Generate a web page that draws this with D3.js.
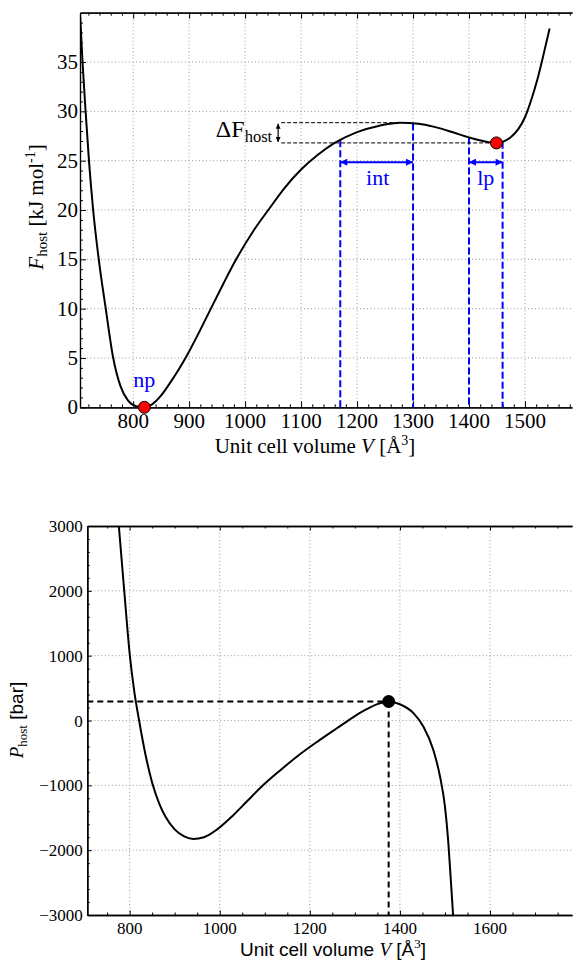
<!DOCTYPE html>
<html>
<head>
<meta charset="utf-8">
<script src="https://cdn.jsdelivr.net/npm/d3@7"></script>
<style>
  body { margin: 0; background: #fff; }
  svg { display: block; }
</style>
</head>
<body>
<svg id="canvas" width="573" height="961"></svg>
<script>
// free energy of the host vs unit cell volume (top panel)
let fVolume = [705, 709.5, 715, 721, 728.5, 738.5, 751, 764, 777, 790, 805, 820, 835, 850, 865, 880, 895, 915, 937, 960, 984, 1015, 1044, 1070, 1100, 1130, 1160, 1200, 1240, 1277, 1310, 1340, 1370, 1400, 1425, 1449, 1462, 1475, 1488, 1500, 1512, 1522, 1530, 1537, 1544]
let fEnergy = [40, 35, 30, 25, 20, 15, 10, 5.1, 2.2, 0.75, 0.12, 0, 0.35, 1.2, 2.4, 3.7, 5.15, 7.3, 9.8, 12.4, 15, 17.9, 20.2, 22.2, 24.1, 25.6, 26.8, 27.9, 28.55, 28.85, 28.75, 28.4, 27.9, 27.35, 27.0, 26.8, 26.95, 27.4, 28.2, 29.4, 31.3, 33.2, 35.0, 36.7, 38.4]

// host pressure vs unit cell volume (bottom panel)
let pVolume = [776, 788, 800.5, 810, 821, 835, 850, 865, 880, 900, 920, 941, 965, 986, 1030, 1060, 1096, 1134, 1178, 1220, 1260, 1295, 1325, 1350, 1375, 1400, 1430, 1452, 1474, 1489, 1500, 1507, 1512, 1518]
let pPressure = [3000, 2000, 1000, 460, 0, -520, -960, -1270, -1490, -1680, -1785, -1826, -1800, -1720, -1460, -1250, -1000, -770, -520, -310, -120, 45, 170, 253, 293, 250, 114, -92, -452, -864, -1327, -1841, -2355, -3000]

let fXTicks = [800, 900, 1000, 1100, 1200, 1300, 1400, 1500]
let fYTicks = [0, 5, 10, 15, 20, 25, 30, 35]
let pXTicks = [800, 1000, 1200, 1400, 1600]
let pYTicks = [-3000, -2000, -1000, 0, 1000, 2000, 3000]

let npPoint = [820, 0]
let lpPoint = [1449, 26.8]
let barrierPoint = [1277, 28.85]
let intRange = [1170, 1300]
let lpRange = [1400, 1460]
let deltaStart = 1059
let pMaxPoint = [1375, 293]

let serif = '"Liberation Serif", "Times New Roman", serif'
let sans = '"Liberation Sans", Arial, sans-serif'
let blue = '#0000ff'
let gridColor = '#9a9a9a'

let svg = d3.select('#canvas')

let interp = (xs, ys, v) => {
  for (let i = 1; i < xs.length; i++) {
    if (v <= xs[i]) {
      let t = (v - xs[i - 1]) / (xs[i] - xs[i - 1])
      return ys[i - 1] + t * (ys[i] - ys[i - 1])
    }
  }
  return ys[ys.length - 1]
}

svg.append('defs').html(
  '<clipPath id="clipTop"><rect x="80" y="12.7" width="492" height="394.6"/></clipPath>' +
  '<clipPath id="clipBot"><rect x="87.3" y="526" width="485" height="389"/></clipPath>' +
  '<marker id="arrB" viewBox="0 0 10 10" refX="10" refY="5" markerWidth="9" markerHeight="7" markerUnits="userSpaceOnUse" orient="auto-start-reverse"><path d="M0,0L10,5L0,10z" fill="' + blue + '"/></marker>' +
  '<marker id="arrK" viewBox="0 0 10 10" refX="10" refY="5" markerWidth="5" markerHeight="5" markerUnits="userSpaceOnUse" orient="auto-start-reverse"><path d="M0,0L10,5L0,10z" fill="#000"/></marker>'
)

let styleAxis = (g, width) => {
  g.selectAll('.domain').attr('stroke', '#000').attr('stroke-width', width)
  g.selectAll('.tick line').attr('stroke', '#000')
}

// ---------- top panel ----------
let xF = d3.scaleLinear().domain([705, 1584]).range([80, 572])
let yF = d3.scaleLinear().domain([0, 40]).range([407.3, 12.7])

let topPanel = svg.append('g')

topPanel.selectAll('.gx').data(fXTicks).enter().append('line')
   .attr('x1', d => xF(d)).attr('x2', d => xF(d))
   .attr('y1', yF(40)).attr('y2', yF(0))
   .attr('stroke', gridColor).attr('stroke-width', 1).attr('stroke-dasharray', '1,2.5')
topPanel.selectAll('.gy').data(fYTicks.filter(d => d > 0)).enter().append('line')
   .attr('x1', xF(705)).attr('x2', 572)
   .attr('y1', d => yF(d)).attr('y2', d => yF(d))
   .attr('stroke', gridColor).attr('stroke-width', 1).attr('stroke-dasharray', '1,2.5')

let fMinorX = d3.range(720, 1584, 20).filter(d => d % 100 !== 0)
let fMinorY = d3.range(1, 40, 1).filter(d => d % 5 !== 0)

let axB = topPanel.append('g').attr('transform', 'translate(0,' + yF(0) + ')')
axB.call(d3.axisBottom(xF).tickValues(fXTicks).tickSize(-6).tickSizeOuter(0).tickFormat(''))
axB.append('g').call(d3.axisBottom(xF).tickValues(fMinorX).tickSize(-3).tickSizeOuter(0).tickFormat(''))
let axT = topPanel.append('g').attr('transform', 'translate(0,' + yF(40) + ')')
axT.call(d3.axisTop(xF).tickValues(fXTicks).tickSize(-6).tickSizeOuter(0).tickFormat(''))
axT.append('g').call(d3.axisTop(xF).tickValues(fMinorX).tickSize(-3).tickSizeOuter(0).tickFormat(''))
let axL = topPanel.append('g').attr('transform', 'translate(' + xF(705) + ',0)')
axL.call(d3.axisLeft(yF).tickValues(fYTicks).tickSize(-6).tickSizeOuter(0).tickFormat(''))
axL.append('g').call(d3.axisLeft(yF).tickValues(fMinorY).tickSize(-3).tickSizeOuter(0).tickFormat(''))
;[axB, axT, axL].forEach(g => styleAxis(g, 1.2))

// tick labels
topPanel.selectAll('.xlab').data(fXTicks).enter().append('text')
   .attr('font-family', serif).attr('font-size', 21).attr('text-anchor', 'middle')
   .attr('x', d => xF(d)).attr('y', yF(0) + 21)
   .text(d => d)
topPanel.selectAll('.ylab').data(fYTicks).enter().append('text')
   .attr('font-family', serif).attr('font-size', 21).attr('text-anchor', 'end')
   .attr('x', xF(705) - 2).attr('y', d => yF(d) + 7)
   .text(d => d)

// blue dashed guides
let guideVols = [intRange[0], intRange[1], lpRange[0], lpRange[1]]
topPanel.selectAll('.guide').data(guideVols).enter().append('line')
   .attr('x1', d => xF(d)).attr('x2', d => xF(d))
   .attr('y1', d => yF(interp(fVolume, fEnergy, d)))
   .attr('y2', yF(0))
   .attr('stroke', blue).attr('stroke-width', 2).attr('stroke-dasharray', '7,3')

// blue double arrows
let arrowY = yF(24.85)
;[intRange, lpRange].forEach(r => {
  topPanel.append('line')
     .attr('x1', xF(r[0])).attr('x2', xF(r[1]))
     .attr('y1', arrowY).attr('y2', arrowY)
     .attr('stroke', blue).attr('stroke-width', 2)
     .attr('marker-start', 'url(#arrB)').attr('marker-end', 'url(#arrB)')
})
topPanel.append('text').attr('font-family', serif).attr('font-size', 22).attr('fill', blue)
   .attr('text-anchor', 'middle').attr('x', xF((intRange[0] + intRange[1]) / 2) + 1).attr('y', 185)
   .text('int')
topPanel.append('text').attr('font-family', serif).attr('font-size', 22).attr('fill', blue)
   .attr('text-anchor', 'middle').attr('x', xF((lpRange[0] + lpRange[1]) / 2)).attr('y', 185)
   .text('lp')

// delta F bracket
topPanel.append('line').attr('x1', xF(deltaStart) + 3).attr('x2', xF(barrierPoint[0]))
   .attr('y1', yF(barrierPoint[1])).attr('y2', yF(barrierPoint[1]))
   .attr('stroke', '#000').attr('stroke-width', 1).attr('stroke-dasharray', '4,2')
topPanel.append('line').attr('x1', xF(deltaStart) + 3).attr('x2', xF(lpPoint[0]))
   .attr('y1', yF(lpPoint[1])).attr('y2', yF(lpPoint[1]))
   .attr('stroke', '#000').attr('stroke-width', 1).attr('stroke-dasharray', '4,2')
topPanel.append('line').attr('x1', xF(deltaStart)).attr('x2', xF(deltaStart))
   .attr('y1', yF(barrierPoint[1]) + 1).attr('y2', yF(lpPoint[1]) - 1)
   .attr('stroke', '#000').attr('stroke-width', 1.2)
   .attr('marker-start', 'url(#arrK)').attr('marker-end', 'url(#arrK)')
let dF = topPanel.append('text').attr('font-family', serif).attr('font-size', 24)
   .attr('text-anchor', 'end').attr('x', xF(deltaStart) - 6).attr('y', 137)
dF.append('tspan').text('ΔF')
dF.append('tspan').attr('font-size', 16.5).attr('dy', 5).text('host')

// the curve
let lineF = d3.line().x(d => xF(d[0])).y(d => yF(d[1])).curve(d3.curveMonotoneX)
topPanel.append('path').datum(d3.zip(fVolume, fEnergy))
   .attr('clip-path', 'url(#clipTop)')
   .attr('d', lineF).attr('fill', 'none').attr('stroke', '#000').attr('stroke-width', 2)

;[npPoint, lpPoint].forEach(p => {
  topPanel.append('circle').attr('cx', xF(p[0])).attr('cy', yF(p[1])).attr('r', 6)
     .attr('fill', '#ff0000').attr('stroke', '#000').attr('stroke-width', 1)
})
topPanel.append('text').attr('font-family', serif).attr('font-size', 22).attr('fill', blue)
   .attr('text-anchor', 'middle').attr('x', xF(npPoint[0])).attr('y', 387).text('np')

// axis titles
let tx = topPanel.append('text').attr('font-family', serif).attr('font-size', 21)
   .attr('text-anchor', 'middle').attr('x', 315).attr('y', 453)
tx.append('tspan').text('Unit cell volume ')
tx.append('tspan').attr('font-style', 'italic').text('V')
tx.append('tspan').text(' [Å')
tx.append('tspan').attr('font-size', 14).attr('dy', -8).text('3')
tx.append('tspan').attr('dy', 8).text(']')

let ty = topPanel.append('text').attr('font-family', serif).attr('font-size', 21)
   .attr('text-anchor', 'middle').attr('transform', 'translate(43,207) rotate(-90)')
ty.append('tspan').attr('font-style', 'italic').text('F')
ty.append('tspan').attr('font-size', 15).attr('dy', 4).text('host')
ty.append('tspan').attr('dy', -4).text(' [kJ mol')
ty.append('tspan').attr('font-size', 14).attr('dy', -8).text('-1')
ty.append('tspan').attr('dy', 8).text(']')

// ---------- bottom panel ----------
let xP = d3.scaleLinear().domain([706, 1782]).range([87.3, 572])
let yP = d3.scaleLinear().domain([-3000, 3000]).range([915, 526])

let botPanel = svg.append('g')

botPanel.selectAll('.gx').data(pXTicks).enter().append('line')
   .attr('x1', d => xP(d)).attr('x2', d => xP(d))
   .attr('y1', yP(3000)).attr('y2', yP(-3000))
   .attr('stroke', gridColor).attr('stroke-width', 1).attr('stroke-dasharray', '1,2.5')
botPanel.selectAll('.gy').data(pYTicks.filter(d => Math.abs(d) < 3000)).enter().append('line')
   .attr('x1', xP(706)).attr('x2', 572)
   .attr('y1', d => yP(d)).attr('y2', d => yP(d))
   .attr('stroke', gridColor).attr('stroke-width', 1).attr('stroke-dasharray', '1,2.5')

let pMinorX = d3.range(750, 1782, 50).filter(d => d % 200 !== 0)
let pMinorY = d3.range(-2800, 3000, 200).filter(d => d % 1000 !== 0)

let bB = botPanel.append('g').attr('transform', 'translate(0,' + yP(-3000) + ')')
bB.call(d3.axisBottom(xP).tickValues(pXTicks).tickSize(-4.5).tickSizeOuter(0).tickFormat(''))
bB.append('g').call(d3.axisBottom(xP).tickValues(pMinorX).tickSize(-2.5).tickSizeOuter(0).tickFormat(''))
let bT = botPanel.append('g').attr('transform', 'translate(0,' + yP(3000) + ')')
bT.call(d3.axisTop(xP).tickValues(pXTicks).tickSize(-4.5).tickSizeOuter(0).tickFormat(''))
bT.append('g').call(d3.axisTop(xP).tickValues(pMinorX).tickSize(-2.5).tickSizeOuter(0).tickFormat(''))
let bL = botPanel.append('g').attr('transform', 'translate(' + xP(706) + ',0)')
bL.call(d3.axisLeft(yP).tickValues(pYTicks).tickSize(-4.5).tickSizeOuter(0).tickFormat(''))
bL.append('g').call(d3.axisLeft(yP).tickValues(pMinorY).tickSize(-2.5).tickSizeOuter(0).tickFormat(''))
;[bB, bT, bL].forEach(g => styleAxis(g, 1.4))

botPanel.selectAll('.xlab').data(pXTicks).enter().append('text')
   .attr('font-family', serif).attr('font-size', 17).attr('text-anchor', 'middle')
   .attr('x', d => xP(d)).attr('y', yP(-3000) + 19)
   .text(d => d)
botPanel.selectAll('.ylab').data(pYTicks).enter().append('text')
   .attr('font-family', serif).attr('font-size', 17).attr('text-anchor', 'end')
   .attr('x', xP(706) - 4.5).attr('y', d => yP(d) + 6)
   .text(d => d < 0 ? '\u2212' + Math.abs(d) : d)

// dashed guides to the pressure maximum
botPanel.append('line').attr('x1', xP(706)).attr('x2', xP(pMaxPoint[0]))
   .attr('y1', yP(pMaxPoint[1])).attr('y2', yP(pMaxPoint[1]))
   .attr('stroke', '#000').attr('stroke-width', 2).attr('stroke-dasharray', '6,4')
botPanel.append('line').attr('x1', xP(pMaxPoint[0])).attr('x2', xP(pMaxPoint[0]))
   .attr('y1', yP(pMaxPoint[1])).attr('y2', yP(-3000))
   .attr('stroke', '#000').attr('stroke-width', 2).attr('stroke-dasharray', '6,4')

let lineP = d3.line().x(d => xP(d[0])).y(d => yP(d[1])).curve(d3.curveMonotoneX)
botPanel.append('path').datum(d3.zip(pVolume, pPressure))
   .attr('clip-path', 'url(#clipBot)')
   .attr('d', lineP).attr('fill', 'none').attr('stroke', '#000').attr('stroke-width', 2)

botPanel.append('circle').attr('cx', xP(pMaxPoint[0])).attr('cy', yP(pMaxPoint[1])).attr('r', 6.5).attr('fill', '#000')

let bx = botPanel.append('text').attr('font-family', sans).attr('font-size', 19)
   .attr('text-anchor', 'middle').attr('x', 333).attr('y', 956)
bx.append('tspan').text('Unit cell volume ')
bx.append('tspan').attr('font-family', serif).attr('font-style', 'italic').text('V')
bx.append('tspan').text(' [Å')
bx.append('tspan').attr('font-family', serif).attr('font-size', 13).attr('dy', -8).text('3')
bx.append('tspan').attr('dy', 8).text(']')

let by = botPanel.append('text').attr('font-family', sans).attr('font-size', 19)
   .attr('text-anchor', 'middle').attr('transform', 'translate(23,720) rotate(-90)')
by.append('tspan').attr('font-family', serif).attr('font-style', 'italic').text('P')
by.append('tspan').attr('font-family', serif).attr('font-size', 13).attr('dy', 4).text('host')
by.append('tspan').attr('dy', -4).text(' [bar]')
</script>
</body>
</html>
